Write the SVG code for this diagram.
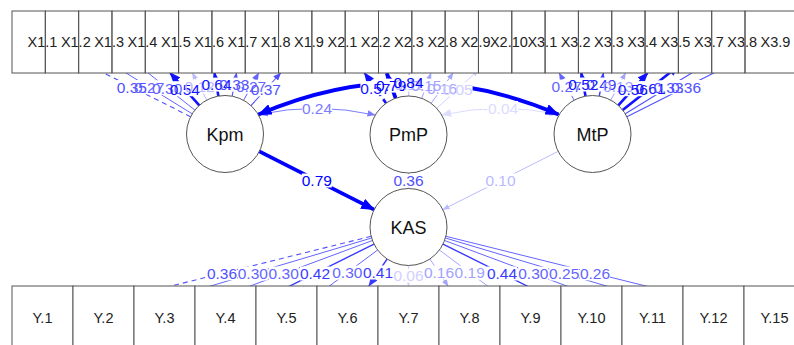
<svg xmlns="http://www.w3.org/2000/svg" width="794" height="345" viewBox="0 0 794 345">
  <style>
    .rowbg { fill: #ffffff; }
    .box { fill: none; stroke: #555555; stroke-width: 1; }
    .boxw { fill: #ffffff; stroke: #555555; stroke-width: 1; }
    .lat { fill: #ffffff; stroke: #555555; stroke-width: 1; }
    .mlab { font-family: "Liberation Sans", Arial, sans-serif; font-size: 14.5px; fill: #222222; text-anchor: middle; }
    .llab { font-family: "Liberation Sans", Arial, sans-serif; font-size: 18px; fill: #111111; text-anchor: middle; }
    .lbg rect { fill: #ffffff; }
    .ltx text { font-family: "Liberation Sans", Arial, sans-serif; font-size: 15.5px; text-anchor: middle; stroke: none; }
    .dash { stroke-dasharray: 5 4; }
    .s1 { stroke: #0000ff; stroke-width: 3.8; fill: #0000ff; }
    .s2 { stroke: #1212ff; stroke-width: 2.6; fill: #1212ff; }
    .s3 { stroke: #3a3aff; stroke-width: 1.4; fill: #3a3aff; }
    .s4 { stroke: #5050ff; stroke-width: 1.1; fill: #5050ff; }
    .s5 { stroke: #6464ff; stroke-width: 1; fill: #6464ff; }
    .s6 { stroke: #7c7cff; stroke-width: 1; fill: #7c7cff; }
    .s7 { stroke: #a2a2ff; stroke-width: 1; fill: #a2a2ff; }
    .s8 { stroke: #babaff; stroke-width: 1; fill: #babaff; }
    .s9 { stroke: #d0d0ff; stroke-width: 1; fill: #d0d0ff; }
    .s10 { stroke: #dcdcff; stroke-width: 1; fill: #dcdcff; }
    #connectors line, #connectors path { fill: none; }
    line.s1, path.s1 { marker-end: url(#m1); }
    line.s2 { marker-end: url(#m2); }
    line.s3 { marker-end: url(#m3); }
    line.s4 { marker-end: url(#m4); }
    line.s5 { marker-end: url(#m5); }
    line.s6 { marker-end: url(#m6); }
    line.s7 { marker-end: url(#m7); }
    line.s8 { marker-end: url(#m8); }
    line.s9 { marker-end: url(#m9); }
    .both { marker-start: url(#m1r); }
  </style>
  <defs>
    <marker id="m1" viewBox="0 0 14 11" refX="13" refY="5.5" markerWidth="14" markerHeight="11" markerUnits="userSpaceOnUse" orient="auto"><path d="M0,0 L14,5.5 L0,11 z" fill="#0000ff"/></marker>
    <marker id="m1r" viewBox="0 0 14 11" refX="13" refY="5.5" markerWidth="14" markerHeight="11" markerUnits="userSpaceOnUse" orient="auto-start-reverse"><path d="M0,0 L14,5.5 L0,11 z" fill="#0000ff"/></marker>
    <marker id="m2" viewBox="0 0 11 9" refX="10" refY="4.5" markerWidth="11" markerHeight="9" markerUnits="userSpaceOnUse" orient="auto"><path d="M0,0 L11,4.5 L0,9 z" fill="#1212ff"/></marker>
    <marker id="m3" viewBox="0 0 10 8" refX="9.5" refY="4" markerWidth="10" markerHeight="8" markerUnits="userSpaceOnUse" orient="auto"><path d="M0,0 L10,4 L0,8 z" fill="#3a3aff"/></marker>
    <marker id="m4" viewBox="0 0 8 6.5" refX="7.5" refY="3.25" markerWidth="8" markerHeight="6.5" markerUnits="userSpaceOnUse" orient="auto"><path d="M0,0 L8,3.25 L0,6.5 z" fill="#5050ff"/></marker>
    <marker id="m5" viewBox="0 0 8 6.5" refX="7.5" refY="3.25" markerWidth="8" markerHeight="6.5" markerUnits="userSpaceOnUse" orient="auto"><path d="M0,0 L8,3.25 L0,6.5 z" fill="#6464ff"/></marker>
    <marker id="m6" viewBox="0 0 8 6.5" refX="7.5" refY="3.25" markerWidth="8" markerHeight="6.5" markerUnits="userSpaceOnUse" orient="auto"><path d="M0,0 L8,3.25 L0,6.5 z" fill="#7c7cff"/></marker>
    <marker id="m7" viewBox="0 0 7 5.5" refX="6.5" refY="2.75" markerWidth="7" markerHeight="5.5" markerUnits="userSpaceOnUse" orient="auto"><path d="M0,0 L7,2.75 L0,5.5 z" fill="#a2a2ff"/></marker>
    <marker id="m8" viewBox="0 0 7 5.5" refX="6.5" refY="2.75" markerWidth="7" markerHeight="5.5" markerUnits="userSpaceOnUse" orient="auto"><path d="M0,0 L7,2.75 L0,5.5 z" fill="#babaff"/></marker>
    <marker id="m9" viewBox="0 0 7 5.5" refX="6.5" refY="2.75" markerWidth="7" markerHeight="5.5" markerUnits="userSpaceOnUse" orient="auto"><path d="M0,0 L7,2.75 L0,5.5 z" fill="#d0d0ff"/></marker>
    <marker id="m6r" viewBox="0 0 10 8" refX="9.5" refY="4" markerWidth="10" markerHeight="8" markerUnits="userSpaceOnUse" orient="auto-start-reverse"><path d="M0,0 L10,4 L0,8 z" fill="#7c7cff"/></marker>
    <marker id="m10r" viewBox="0 0 10 8" refX="9.5" refY="4" markerWidth="10" markerHeight="8" markerUnits="userSpaceOnUse" orient="auto-start-reverse"><path d="M0,0 L10,4 L0,8 z" fill="#dcdcff"/></marker>
  </defs>

  <!-- connectors: loadings, regressions and covariances -->
  <g id="connectors">
    <!-- Kpm loadings -->
    <line class="s4 dash" x1="190.6" y1="116.7" x2="73" y2="57.4"/>
    <line class="s5" x1="192.2" y1="113.8" x2="106.3" y2="60.8"/>
    <line class="s5" x1="194.9" y1="110.1" x2="139.6" y2="66.2"/>
    <line class="s2" x1="199.3" y1="105.3" x2="170.3" y2="73"/>
    <line class="s8" x1="206.8" y1="100.1" x2="192.4" y2="73"/>
    <line class="s2" x1="218.4" y1="96.1" x2="214.5" y2="73"/>
    <line class="s4" x1="232.2" y1="96.2" x2="236.5" y2="73"/>
    <line class="s5" x1="243.6" y1="100.3" x2="258.6" y2="73"/>
    <line class="s4" x1="251" y1="105.6" x2="280.7" y2="73"/>
    <!-- PmP loadings -->
    <line class="s2 dash" x1="386.1" y1="103.2" x2="364.6" y2="73"/>
    <line class="s1" x1="395.6" y1="98.2" x2="386.7" y2="73"/>
    <line class="s8" x1="408.7" y1="96" x2="409.2" y2="73"/>
    <line class="s7" x1="421.7" y1="98.3" x2="431" y2="73"/>
    <line class="s7" x1="431.1" y1="103.3" x2="453.1" y2="73"/>
    <line class="s9" x1="436.8" y1="108.4" x2="478.4" y2="70.1"/>
    <!-- MtP loadings -->
    <line class="s5 dash" x1="574.1" y1="100.2" x2="559.2" y2="73"/>
    <line class="s2" x1="585.5" y1="96.1" x2="581.3" y2="73"/>
    <line class="s3" x1="599.3" y1="96.1" x2="603.4" y2="73"/>
    <line class="s7" x1="610.8" y1="100.1" x2="625.5" y2="73"/>
    <line class="s2" x1="618.3" y1="105.4" x2="647.5" y2="73"/>
    <line class="s2" x1="622.7" y1="110.1" x2="678.4" y2="66.1"/>
    <line class="s4" x1="625.3" y1="113.8" x2="711.7" y2="60.7"/>
    <line class="s4" x1="626.9" y1="116.7" x2="745" y2="57.3"/>
    <!-- KAS loadings -->
    <line class="s4 dash" x1="371.1" y1="236.3" x2="73" y2="310.4"/>
    <line class="s5" x1="371.6" y1="238" x2="134" y2="308.9"/>
    <line class="s5" x1="372.4" y1="240.5" x2="195" y2="306.6"/>
    <line class="s3" x1="374" y1="244.1" x2="256" y2="302.8"/>
    <line class="s5" x1="377.6" y1="250" x2="317" y2="295.3"/>
    <line class="s3" x1="387.1" y1="259" x2="368.9" y2="286"/>
    <line class="s9" x1="408.5" y1="265.5" x2="408.5" y2="286"/>
    <line class="s7" x1="429.9" y1="259" x2="448.1" y2="286"/>
    <line class="s7" x1="439.4" y1="250" x2="500" y2="295.3"/>
    <line class="s3" x1="443" y1="244.1" x2="561" y2="302.8"/>
    <line class="s5" x1="444.6" y1="240.5" x2="622" y2="306.6"/>
    <line class="s5" x1="445.4" y1="238" x2="683" y2="308.9"/>
    <line class="s5" x1="445.9" y1="236.3" x2="744" y2="310.4"/>
    <!-- structural paths -->
    <line class="s1" x1="259.3" y1="151.4" x2="374.2" y2="209.6"/>
    <line class="s4" x1="408.5" y1="173" x2="408.5" y2="188.5"/>
    <line class="s8" x1="558.1" y1="151.4" x2="442.9" y2="209.6"/>
    <!-- covariances -->
    <path class="s6" d="M258.5,114.5 Q317,102 375,115" style="marker-start:url(#m6r);marker-end:url(#m6)"/>
    <path class="s10" d="M441.7,115 Q500,102 559,114.5" style="marker-start:url(#m10r);marker-end:url(#m10r)"/>
    <path class="s1 both" d="M258.5,114.5 Q408.5,50 558.5,114.5"/>
  </g>

  <!-- latent variables -->
  <g id="Kpm"><circle class="lat" cx="225" cy="134" r="38.5"/><text class="llab" x="225" y="140.5">Kpm</text></g>
  <g id="PmP"><circle class="lat" cx="408.5" cy="134.5" r="38.5"/><text class="llab" x="408.5" y="141">PmP</text></g>
  <g id="MtP"><circle class="lat" cx="592.5" cy="134" r="38.5"/><text class="llab" x="592.5" y="140.5">MtP</text></g>
  <g id="KAS"><circle class="lat" cx="408.5" cy="227" r="38.5"/><text class="llab" x="408.5" y="233.5">KAS</text></g>

  <!-- indicator row backdrop (hides connector ends under the boxes) -->
  <rect class="rowbg" x="12" y="11" width="794" height="62"/>

  <!-- top indicators -->
  <g id="X1.1"><rect class="box" x="12" y="11" width="33.32" height="62"/><text class="mlab" x="42.5" y="47">X1.1</text></g>
  <g id="X1.2"><rect class="box" x="45.32" y="11" width="33.32" height="62"/><text class="mlab" x="75.8" y="47">X1.2</text></g>
  <g id="X1.3"><rect class="box" x="78.64" y="11" width="33.32" height="62"/><text class="mlab" x="109.1" y="47">X1.3</text></g>
  <g id="X1.4"><rect class="box" x="111.95" y="11" width="33.32" height="62"/><text class="mlab" x="142.5" y="47">X1.4</text></g>
  <g id="X1.5"><rect class="box" x="145.27" y="11" width="33.32" height="62"/><text class="mlab" x="175.8" y="47">X1.5</text></g>
  <g id="X1.6"><rect class="box" x="178.59" y="11" width="33.32" height="62"/><text class="mlab" x="209.1" y="47">X1.6</text></g>
  <g id="X1.7"><rect class="box" x="211.91" y="11" width="33.32" height="62"/><text class="mlab" x="242.4" y="47">X1.7</text></g>
  <g id="X1.8"><rect class="box" x="245.23" y="11" width="33.32" height="62"/><text class="mlab" x="275.7" y="47">X1.8</text></g>
  <g id="X1.9"><rect class="box" x="278.55" y="11" width="33.32" height="62"/><text class="mlab" x="309" y="47">X1.9</text></g>
  <g id="X2.1"><rect class="box" x="311.86" y="11" width="33.32" height="62"/><text class="mlab" x="342.4" y="47">X2.1</text></g>
  <g id="X2.2"><rect class="box" x="345.18" y="11" width="33.32" height="62"/><text class="mlab" x="375.7" y="47">X2.2</text></g>
  <g id="X2.3"><rect class="box" x="378.5" y="11" width="33.32" height="62"/><text class="mlab" x="409" y="47">X2.3</text></g>
  <g id="X2.8"><rect class="box" x="411.82" y="11" width="33.32" height="62"/><text class="mlab" x="442.3" y="47">X2.8</text></g>
  <g id="X2.9"><rect class="box" x="445.14" y="11" width="33.32" height="62"/><text class="mlab" x="475.6" y="47">X2.9</text></g>
  <g id="X2.10"><rect class="box" x="478.45" y="11" width="33.32" height="62"/><text class="mlab" x="508.9" y="47">X2.10</text></g>
  <g id="X3.1"><rect class="box" x="511.77" y="11" width="33.32" height="62"/><text class="mlab" x="542.3" y="47">X3.1</text></g>
  <g id="X3.2"><rect class="box" x="545.09" y="11" width="33.32" height="62"/><text class="mlab" x="575.6" y="47">X3.2</text></g>
  <g id="X3.3"><rect class="box" x="578.41" y="11" width="33.32" height="62"/><text class="mlab" x="608.9" y="47">X3.3</text></g>
  <g id="X3.4"><rect class="box" x="611.73" y="11" width="33.32" height="62"/><text class="mlab" x="642.2" y="47">X3.4</text></g>
  <g id="X3.5"><rect class="box" x="645.05" y="11" width="33.32" height="62"/><text class="mlab" x="675.5" y="47">X3.5</text></g>
  <g id="X3.7"><rect class="box" x="678.36" y="11" width="33.32" height="62"/><text class="mlab" x="708.9" y="47">X3.7</text></g>
  <g id="X3.8"><rect class="box" x="711.68" y="11" width="33.32" height="62"/><text class="mlab" x="742.2" y="47">X3.8</text></g>
  <g id="X3.9"><rect class="box" x="745" y="11" width="61" height="62"/><text class="mlab" x="775.5" y="47">X3.9</text></g>

  <!-- bottom indicators -->
  <g id="Y.1"><rect class="boxw" x="12" y="286" width="61" height="64"/><text class="mlab" x="42.5" y="323">Y.1</text></g>
  <g id="Y.2"><rect class="boxw" x="73" y="286" width="61" height="64"/><text class="mlab" x="103.5" y="323">Y.2</text></g>
  <g id="Y.3"><rect class="boxw" x="134" y="286" width="61" height="64"/><text class="mlab" x="164.5" y="323">Y.3</text></g>
  <g id="Y.4"><rect class="boxw" x="195" y="286" width="61" height="64"/><text class="mlab" x="225.5" y="323">Y.4</text></g>
  <g id="Y.5"><rect class="boxw" x="256" y="286" width="61" height="64"/><text class="mlab" x="286.5" y="323">Y.5</text></g>
  <g id="Y.6"><rect class="boxw" x="317" y="286" width="61" height="64"/><text class="mlab" x="347.5" y="323">Y.6</text></g>
  <g id="Y.7"><rect class="boxw" x="378" y="286" width="61" height="64"/><text class="mlab" x="408.5" y="323">Y.7</text></g>
  <g id="Y.8"><rect class="boxw" x="439" y="286" width="61" height="64"/><text class="mlab" x="469.5" y="323">Y.8</text></g>
  <g id="Y.9"><rect class="boxw" x="500" y="286" width="61" height="64"/><text class="mlab" x="530.5" y="323">Y.9</text></g>
  <g id="Y.10"><rect class="boxw" x="561" y="286" width="61" height="64"/><text class="mlab" x="591.5" y="323">Y.10</text></g>
  <g id="Y.11"><rect class="boxw" x="622" y="286" width="61" height="64"/><text class="mlab" x="652.5" y="323">Y.11</text></g>
  <g id="Y.12"><rect class="boxw" x="683" y="286" width="61" height="64"/><text class="mlab" x="713.5" y="323">Y.12</text></g>
  <g id="Y.15"><rect class="boxw" x="744" y="286" width="61" height="64"/><text class="mlab" x="774.5" y="323">Y.15</text></g>

  <!-- connector labels: all white backings first, then all numbers on top -->
  <g id="connector-labels">
    <g class="lbg">
      <rect x="116.8" y="80" width="30" height="14"/>
      <rect x="134.2" y="80.3" width="30" height="14"/>
      <rect x="152.2" y="81.2" width="30" height="14"/>
      <rect x="169.8" y="82.2" width="30" height="14"/>
      <rect x="184.6" y="79.5" width="30" height="14"/>
      <rect x="201.5" y="77.6" width="30" height="14"/>
      <rect x="219.3" y="77.6" width="30" height="14"/>
      <rect x="236.1" y="79.7" width="30" height="14"/>
      <rect x="250.9" y="82.3" width="30" height="14"/>
      <rect x="360.4" y="81.1" width="30" height="14"/>
      <rect x="376.2" y="78.6" width="30" height="14"/>
      <rect x="393.9" y="77.5" width="30" height="14"/>
      <rect x="411.4" y="78.7" width="30" height="14"/>
      <rect x="427.1" y="81.2" width="30" height="14"/>
      <rect x="442.6" y="82.3" width="30" height="14"/>
      <rect x="393.5" y="75" width="30" height="14"/>
      <rect x="551.6" y="79.6" width="30" height="14"/>
      <rect x="568.4" y="77.5" width="30" height="14"/>
      <rect x="586.3" y="77.5" width="30" height="14"/>
      <rect x="603.2" y="79.6" width="30" height="14"/>
      <rect x="617.9" y="82.2" width="30" height="14"/>
      <rect x="635.5" y="81.1" width="30" height="14"/>
      <rect x="653.5" y="80.3" width="30" height="14"/>
      <rect x="671" y="80" width="30" height="14"/>
      <rect x="302" y="101" width="30" height="14"/>
      <rect x="483" y="101" width="35" height="14"/>
      <rect x="301.8" y="173.5" width="30" height="14"/>
      <rect x="393.5" y="173.8" width="30" height="14"/>
      <rect x="485.5" y="173.5" width="30" height="14"/>
      <rect x="207" y="266.3" width="30" height="14"/>
      <rect x="237.8" y="266.5" width="30" height="14"/>
      <rect x="268.7" y="266.6" width="30" height="14"/>
      <rect x="300" y="266.5" width="30" height="14"/>
      <rect x="332.3" y="265.7" width="30" height="14"/>
      <rect x="363" y="265.5" width="30" height="14"/>
      <rect x="393.5" y="268.8" width="30" height="14"/>
      <rect x="424" y="265.5" width="30" height="14"/>
      <rect x="454.7" y="265.7" width="30" height="14"/>
      <rect x="487" y="266.5" width="30" height="14"/>
      <rect x="518.3" y="266.6" width="30" height="14"/>
      <rect x="549.2" y="266.5" width="30" height="14"/>
      <rect x="580" y="266.3" width="30" height="14"/>
    </g>
    <g class="ltx">
      <!-- Kpm loadings -->
      <text class="s4" x="131.8" y="92.5">0.35</text>
      <text class="s5" x="149.2" y="92.8">0.27</text>
      <text class="s5" x="167.2" y="93.7">0.30</text>
      <text class="s2" x="184.8" y="94.7">0.54</text>
      <text class="s8" x="199.6" y="92">0.12</text>
      <text class="s2" x="216.5" y="90.1">0.64</text>
      <text class="s4" x="234.3" y="90.1">0.33</text>
      <text class="s5" x="251.1" y="92.2">0.27</text>
      <text class="s4" x="265.9" y="94.8">0.37</text>
      <!-- PmP loadings -->
      <text class="s2" x="375.4" y="93.6">0.57</text>
      <text class="s1" x="391.2" y="91.1">0.79</text>
      <text class="s8" x="408.9" y="90">0.11</text>
      <text class="s7" x="426.4" y="91.2">0.15</text>
      <text class="s7" x="442.1" y="93.7">0.16</text>
      <text class="s9" x="457.6" y="94.8">0.05</text>
      <!-- MtP loadings -->
      <text class="s5" x="566.6" y="92.1">0.27</text>
      <text class="s2" x="583.4" y="90">0.52</text>
      <text class="s3" x="601.3" y="90">0.49</text>
      <text class="s7" x="618.2" y="92.1">0.13</text>
      <text class="s2" x="632.9" y="94.7">0.56</text>
      <text class="s2" x="650.5" y="93.6">0.61</text>
      <text class="s4" x="668.5" y="92.8">0.33</text>
      <text class="s4" x="686" y="92.5">0.36</text>
      <!-- covariances -->
      <text class="s1" x="408.5" y="87.5">0.84</text>
      <text class="s6" x="317" y="113.5">0.24</text>
      <text class="s10" x="500.5" y="113.5">-0.04</text>
      <!-- structural paths -->
      <text class="s1" x="316.8" y="186">0.79</text>
      <text class="s4" x="408.5" y="186.3">0.36</text>
      <text class="s8" x="500.5" y="186">0.10</text>
      <!-- KAS loadings -->
      <text class="s4" x="222" y="278.8">0.36</text>
      <text class="s5" x="252.8" y="279">0.30</text>
      <text class="s5" x="283.7" y="279.1">0.30</text>
      <text class="s3" x="315" y="279">0.42</text>
      <text class="s5" x="347.3" y="278.2">0.30</text>
      <text class="s3" x="378" y="278">0.41</text>
      <text class="s9" x="408.5" y="281.3">0.06</text>
      <text class="s7" x="439" y="278">0.16</text>
      <text class="s7" x="469.7" y="278.2">0.19</text>
      <text class="s3" x="502" y="279">0.44</text>
      <text class="s5" x="533.3" y="279.1">0.30</text>
      <text class="s5" x="564.2" y="279">0.25</text>
      <text class="s5" x="595" y="278.8">0.26</text>
    </g>
  </g>
</svg>
